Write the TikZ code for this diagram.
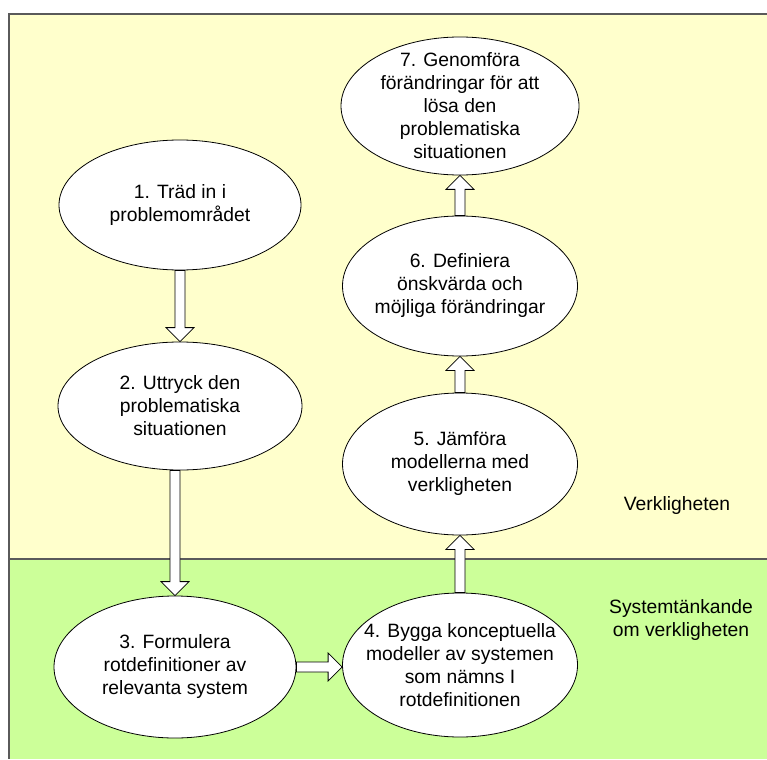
\documentclass[tikz,border=0pt]{standalone}
\usepackage{fontspec}
\setmainfont{Liberation Sans}
\usetikzlibrary{shapes.geometric,calc}
\definecolor{realbg}{HTML}{FFFFCC}
\definecolor{sysbg}{HTML}{CCFF99}
\definecolor{framegray}{HTML}{5A5A5A}

\tikzset{
  stage/.style={ellipse, draw=black, fill=white, line width=0.8pt, inner sep=0pt},
  txt/.style={align=center, font=\fontsize{19.3}{23}\selectfont, inner sep=0pt},
  zone/.style={align=center, font=\fontsize{19.3}{23}\selectfont, inner sep=0pt},
  frameline/.style={framegray, line width=1.5pt},
  % hollow block arrow from \tikztostart to \tikztotarget
  blockarrow/.style={draw=black, fill=white, line width=0.8pt, line join=miter,
    to path={
      ($(\tikztotarget)!14pt!(\tikztostart)$) coordinate (ba-h)
      ($(\tikztostart)!5pt!90:(\tikztotarget)$)
      -- ($(ba-h)!5pt!90:(\tikztotarget)$)
      -- ($(ba-h)!14pt!90:(\tikztotarget)$)
      -- (\tikztotarget)
      -- ($(ba-h)!14pt!-90:(\tikztotarget)$)
      -- ($(ba-h)!5pt!-90:(\tikztotarget)$)
      -- ($(\tikztostart)!5pt!-90:(\tikztotarget)$)
      -- cycle}}
}

\begin{document}
\begin{tikzpicture}[x=1pt, y=-1pt]
  \useasboundingbox (0,0) rectangle (767,759);

  % the two zones
  \fill[realbg] (9,14) rectangle (767,559);
  \fill[sysbg] (9,559) rectangle (767,759);
  \draw[frameline] (767,14) -- (9,14) -- (9,759);
  \draw[frameline] (9,559) -- (767,559);

  \node[zone] (zreal) at (677,506) {Verkligheten};
  \node[zone] (zsys) at (681,620) {Systemtänkande\\om verkligheten};

  % the seven stages
  \node[stage, minimum width=242pt, minimum height=130pt] (n1) at (180,205) {};
  \node[stage, minimum width=244pt, minimum height=128pt] (n2) at (180,406) {};
  \node[stage, minimum width=242pt, minimum height=142pt] (n3) at (175,667) {};
  \node[stage, minimum width=235pt, minimum height=144pt] (n4) at (460,665) {};
  \node[stage, minimum width=235pt, minimum height=142pt] (n5) at (460,464) {};
  \node[stage, minimum width=235pt, minimum height=140pt] (n6) at (460,286) {};
  \node[stage, minimum width=238pt, minimum height=138pt] (n7) at (460,106) {};

  \node[txt] (t1) at (n1) {1. Träd in i\\problemområdet};
  \node[txt] (t2) at (n2) {2. Uttryck den\\problematiska\\situationen};
  \node[txt] (t3) at (n3) {3. Formulera\\rotdefinitioner av\\relevanta system};
  \node[txt] (t4) at (n4) {4. Bygga konceptuella\\modeller av systemen\\som nämns I\\rotdefinitionen};
  \node[txt] (t5) at (n5) {5. Jämföra\\modellerna med\\verkligheten};
  \node[txt] (t6) at (n6) {6. Definiera\\önskvärda och\\möjliga förändringar};
  \node[txt] (t7) at (n7) {7. Genomföra\\förändringar för att\\lösa den\\problematiska\\situationen};

  % flow between the stages
  \path[blockarrow] (n1.south) to (n2.north);
  \path[blockarrow] (n3.north |- n2.south) to (n3.north);
  \path[blockarrow] (n3.east) to (n3.east -| n4.west);
  \path[blockarrow] (n4.north) to (n5.south);
  \path[blockarrow] (n5.north) to (n6.south);
  \path[blockarrow] (n6.north) to (n7.south);
\end{tikzpicture}
\end{document}
